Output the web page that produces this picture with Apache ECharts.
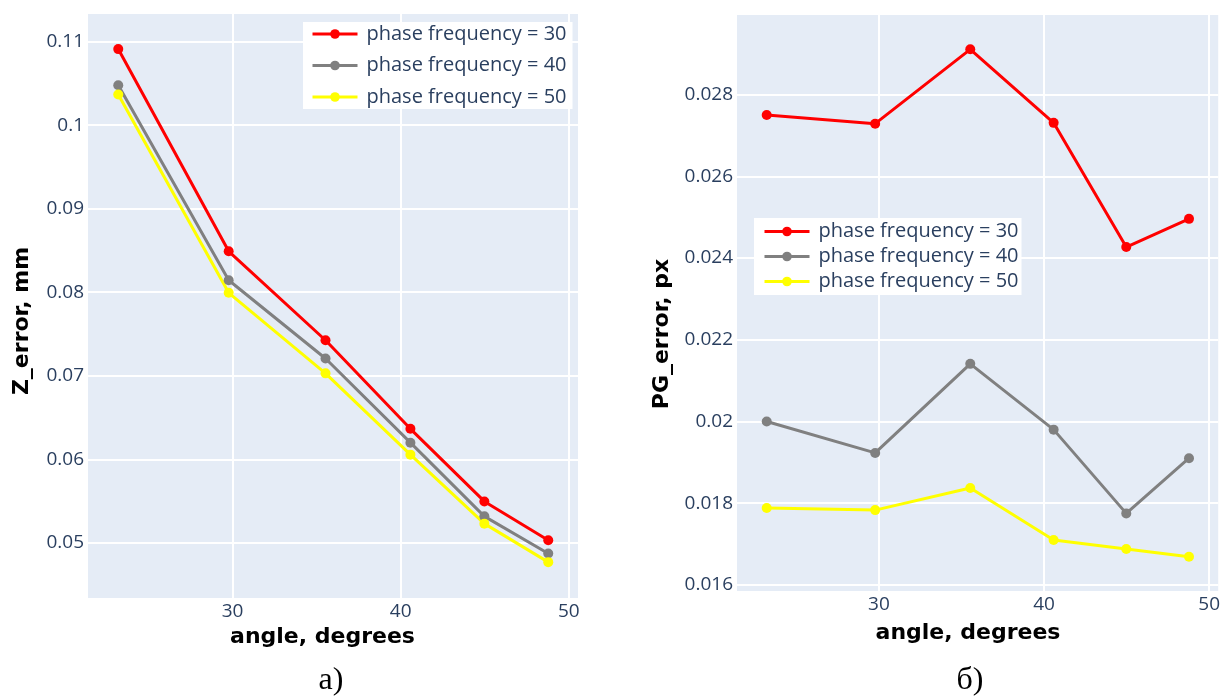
<!DOCTYPE html>
<html>
<head>
<meta charset="utf-8">
<script src="https://cdn.jsdelivr.net/npm/echarts@6/dist/echarts.min.js"></script>
<style>
html,body{margin:0;padding:0;background:#fff;}
#chart{width:1223px;height:698px;}
</style>
</head>
<body>
<div id="chart"></div>
<script>
// ---- data ----
const angles = [23.2, 29.77, 35.53, 40.58, 44.98, 48.78];
const seriesNames = ['phase frequency = 30', 'phase frequency = 40', 'phase frequency = 50'];
const zErr30 = [0.1091, 0.0849, 0.07425, 0.06365, 0.05496, 0.05031];
const zErr40 = [0.10478, 0.08143, 0.07207, 0.06199, 0.05317, 0.04872];
const zErr50 = [0.10367, 0.07993, 0.07029, 0.06056, 0.0523, 0.04769];
const pgErr30 = [0.0275, 0.02729, 0.02911, 0.02731, 0.02427, 0.02496];
const pgErr40 = [0.0200, 0.01923, 0.02141, 0.0198, 0.01775, 0.0191];
const pgErr50 = [0.01788, 0.01783, 0.01837, 0.0171, 0.01688, 0.01669];
const xTitle = 'angle, degrees';
const yTitleLeft = 'Z_error, mm';
const yTitleRight = 'PG_error, px';
const captions = ['a)', 'б)'];

// ---- styles ----
const colors = ['#ff0000', '#808080', '#ffff00'];
const tickColor = '#2a3f5f';
const tickFont = 'Open Sans';

function pairs(ys) { return angles.map((a, i) => [a, ys[i]]); }

function xAxis(gridIndex) {
  return {
    type: 'value', gridIndex, min: 21.4, max: 50.55, splitNumber: 3,
    axisLine: {show: false}, axisTick: {show: false},
    axisLabel: {color: tickColor, fontFamily: tickFont, fontSize: 19, margin: 4,
                showMinLabel: false, showMaxLabel: false},
    splitLine: {show: true, showMinLine: false, showMaxLine: false,
                lineStyle: {color: '#ffffff', width: 2}}
  };
}
function yAxis(gridIndex, min, max, splitNumber) {
  return {
    type: 'value', gridIndex, min, max, splitNumber,
    axisLine: {show: false}, axisTick: {show: false},
    axisLabel: {color: tickColor, fontFamily: tickFont, fontSize: 19, margin: 4,
                showMinLabel: false, showMaxLabel: false},
    splitLine: {show: true, showMinLine: false, showMaxLine: false,
                lineStyle: {color: '#ffffff', width: 2}}
  };
}
function lineSeries(name, data, idx, axisIdx) {
  return {
    type: 'line', name, data: pairs(data),
    xAxisIndex: axisIdx, yAxisIndex: axisIdx,
    symbol: 'circle', symbolSize: 10, showSymbol: true,
    lineStyle: {color: colors[idx], width: 3},
    itemStyle: {color: colors[idx]},
    emphasis: {disabled: true},
    animation: false
  };
}
function legend(left, top, gap, padding) {
  return {
    data: seriesNames, orient: 'vertical', align: 'left',
    left, top, itemGap: gap, itemWidth: 45, itemHeight: 12,
    padding, backgroundColor: '#ffffff', borderWidth: 0,
    lineStyle: {width: 3},
    textStyle: {color: tickColor, fontFamily: tickFont, fontSize: 20, padding: [0, 0, 0, 4]}
  };
}
const titleFont = 'bold 22px "DejaVu Sans"';
const capFont = '32px "Liberation Serif"';

const option = {
  backgroundColor: '#ffffff',
  animation: false,
  grid: [
    {left: 88, top: 14, right: 645, bottom: 100, show: true, backgroundColor: '#E5ECF6', borderWidth: 0},
    {left: 737, top: 15, right: 1, bottom: 107, show: true, backgroundColor: '#E5ECF6', borderWidth: 0}
  ],
  xAxis: [xAxis(0), xAxis(1)],
  yAxis: [yAxis(0, 0.0434, 0.1133, 6), yAxis(1, 0.01585, 0.02995, 7)],
  legend: [
    legend(303, 22, 11.5, [2, 6, 2, 8]),
    legend(754, 218, 5, [3.5, 3, 3.5, 9])
  ],
  series: [
    lineSeries(seriesNames[0], zErr30, 0, 0),
    lineSeries(seriesNames[1], zErr40, 1, 0),
    lineSeries(seriesNames[2], zErr50, 2, 0),
    lineSeries(seriesNames[0], pgErr30, 0, 1),
    lineSeries(seriesNames[1], pgErr40, 1, 1),
    lineSeries(seriesNames[2], pgErr50, 2, 1)
  ],
  graphic: [
    {type: 'text', x: 22, y: 321, rotation: Math.PI / 2,
     style: {text: yTitleLeft, font: titleFont, fill: '#000', align: 'center', verticalAlign: 'middle'}},
    {type: 'text', x: 662, y: 334, rotation: Math.PI / 2,
     style: {text: yTitleRight, font: titleFont, fill: '#000', align: 'center', verticalAlign: 'middle'}},
    {type: 'text', x: 322.5, y: 637,
     style: {text: xTitle, font: titleFont, fill: '#000', align: 'center', verticalAlign: 'middle'}},
    {type: 'text', x: 968, y: 633,
     style: {text: xTitle, font: titleFont, fill: '#000', align: 'center', verticalAlign: 'middle'}},
    {type: 'text', x: 331, y: 681,
     style: {text: captions[0], font: capFont, fill: '#000', align: 'center', verticalAlign: 'middle'}},
    {type: 'text', x: 970, y: 681,
     style: {text: captions[1], font: capFont, fill: '#000', align: 'center', verticalAlign: 'middle'}}
  ]
};
const chart = echarts.init(document.getElementById('chart'), null, {renderer: 'canvas'});
chart.setOption(option);
</script>
</body>
</html>
